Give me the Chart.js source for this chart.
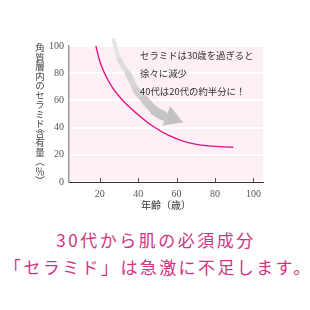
<!DOCTYPE html>
<html><head><meta charset="utf-8">
<script src="https://cdn.jsdelivr.net/npm/chart.js@4"></script>
<style>
html,body{margin:0;padding:0;background:#fff;width:310px;height:310px;overflow:hidden}
#wrap{position:relative;width:310px;height:310px}
#c{position:absolute;left:0;top:0}
#ytitle{position:absolute;left:34px;top:43px;writing-mode:vertical-rl;font:9.5px "Noto Sans CJK JP";color:#444;line-height:12px}
#ytitle .up{text-orientation:upright}
.msg{position:absolute;left:0;width:310px;text-align:center;color:#d2357f;font:17px "Noto Sans CJK JP";white-space:nowrap;line-height:20px}
</style></head>
<body><div id="wrap">
<canvas id="c" width="310" height="215"></canvas>
<div id="ytitle"><span class="up">角質層内のセラミド含有量</span>（<span class="up">％</span>）</div>
<div class="msg" style="top:230px;letter-spacing:2.5px;text-indent:2px">30代から肌の必須成分</div>
<div class="msg" style="top:257px;letter-spacing:2.4px;text-indent:4px">「セラミド」は急激に不足します。</div>
</div>
<script>
// Ceramide content curve (age vs %)
const ages = [18, 20, 22.5, 26.8, 32, 40, 47.7, 55.6, 66, 76.5, 89.5];
const ceramide = [100, 89, 80, 69, 60, 49.5, 41, 34.5, 29, 26.6, 25.5];
// Decorative gray arrow path (in data units)
const arrowX = [27.2, 30.3, 34.6, 39.0, 43.4, 48.6, 53.3];
const arrowY = [104.4, 89.7, 79.9, 67.6, 60.3, 52.5, 48.5];
const arrowHead = [{x: 57.6, y: 47}];
const xTicks = [20, 40, 60, 80, 100];
const yTicks = [0, 20, 40, 60, 80, 100];
const noteLines = ['セラミドは30歳を過ぎると', '徐々に減少', '40代は20代の約半分に！'];
const noteX = 41;
const noteY = [93.4, 80, 66.4];

const grays = ['#e4e4e4','#dddddd','#d6d6d6','#d0d0d0','#cacaca','#c5c5c5','#c2c2c2'];

const bgPlugin = {
  id: 'bg',
  beforeDraw(chart) {
    const {ctx, chartArea: a} = chart;
    ctx.save();
    ctx.fillStyle = '#fcf0f6';
    ctx.fillRect(a.left, a.top, a.right - a.left, a.bottom - a.top);
    ctx.restore();
  }
};
const tickPlugin = {
  id: 'innerTicks',
  afterDraw(chart) {
    const {ctx} = chart;
    const xs = chart.scales.x;
    const b = chart.chartArea.bottom;
    ctx.save();
    ctx.strokeStyle = '#555';
    ctx.lineWidth = 1;
    xTicks.forEach(v => {
      const px = Math.round(xs.getPixelForValue(v)) + 0.5;
      ctx.beginPath(); ctx.moveTo(px, b); ctx.lineTo(px, b - 4); ctx.stroke();
    });
    ctx.restore();
  }
};
const notePlugin = {
  id: 'note',
  afterDatasetsDraw(chart) {
    const {ctx} = chart;
    const xs = chart.scales.x, ys = chart.scales.y;
    ctx.save();
    ctx.font = '9.4px "Noto Sans CJK JP"';
    ctx.fillStyle = '#333';
    ctx.textBaseline = 'middle';
    ctx.textAlign = 'left';
    noteLines.forEach((t, i) => ctx.fillText(t, xs.getPixelForValue(noteX), ys.getPixelForValue(noteY[i])));
    ctx.restore();
  }
};

new Chart(document.getElementById('c'), {
  type: 'scatter',
  data: {
    datasets: [
      {
        data: arrowX.map((x, i) => ({x, y: arrowY[i]})),
        showLine: true, tension: 0.4, pointRadius: 0, clip: false,
        borderColor: '#cccccc', borderWidth: 6, borderCapStyle: 'round',
        segment: {
          borderWidth: c => 4 + c.p0DataIndex * 1.1,
          borderColor: c => grays[Math.min(c.p0DataIndex, grays.length - 1)]
        }
      },
      {
        data: arrowHead, pointStyle: 'triangle', rotation: 112, pointRadius: 12,
        backgroundColor: '#c2c2c2', borderWidth: 0, clip: false
      },
      {
        data: ages.map((x, i) => ({x, y: ceramide[i]})),
        showLine: true, cubicInterpolationMode: 'monotone', pointRadius: 0,
        borderColor: '#e0147f', borderWidth: 1.4
      }
    ]
  },
  options: {
    responsive: false, animation: false,
    layout: {padding: {left: 0, right: 47, top: 46, bottom: 0}},
    plugins: {legend: {display: false}, tooltip: {enabled: false}},
    scales: {
      x: {
        type: 'linear', min: 4, max: 105,
        afterBuildTicks: s => { s.ticks = xTicks.map(v => ({value: v})); },
        afterFit: s => { s.height = 33; },
        grid: {display: false, drawTicks: false},
        border: {display: true, color: '#333', width: 1},
        ticks: {padding: 6, color: '#555', font: {family: 'Liberation Serif', size: 10}},
        title: {display: true, text: '年齢（歳）', color: '#333',
                font: {family: 'Noto Sans CJK JP', size: 10}, padding: {top: 0, bottom: 4}}
      },
      y: {
        type: 'linear', min: 0, max: 100,
        afterBuildTicks: s => { s.ticks = yTicks.map(v => ({value: v})); },
        afterFit: s => { s.width = 69; },
        grid: {color: '#ffffff', lineWidth: 2, drawTicks: false},
        border: {display: true, color: '#999', width: 1.5},
        ticks: {padding: 5, color: '#555', font: {family: 'Liberation Serif', size: 10}}
      }
    }
  },
  plugins: [bgPlugin, tickPlugin, notePlugin]
});
</script>
</body></html>
